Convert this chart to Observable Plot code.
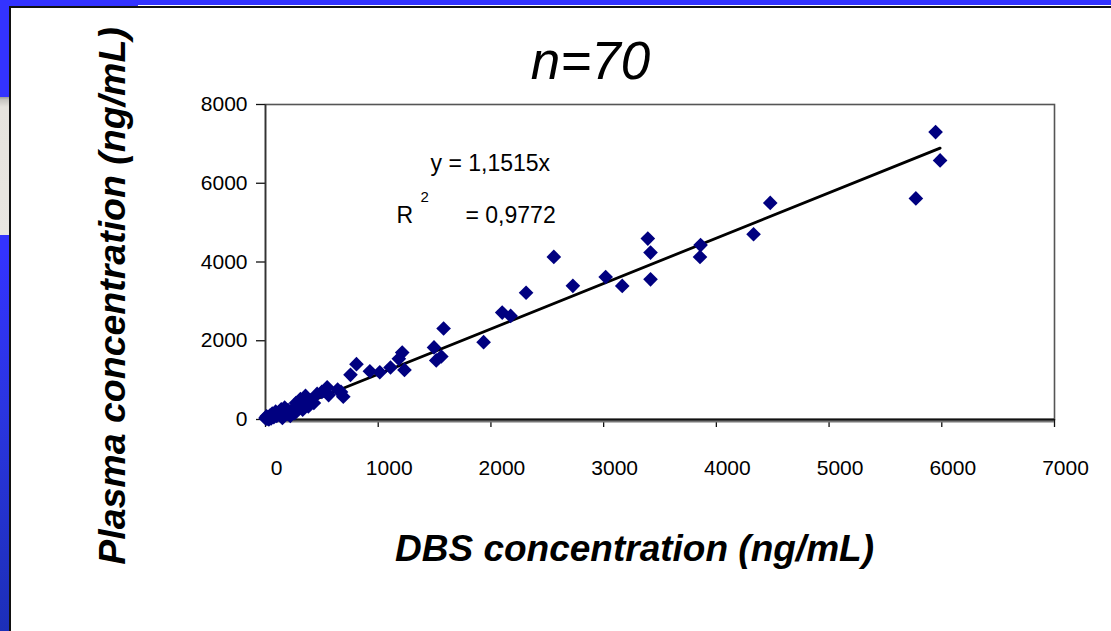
<!DOCTYPE html>
<html>
<head>
<meta charset="utf-8">
<script src="https://cdn.jsdelivr.net/npm/d3@7"></script>
<script src="https://cdn.jsdelivr.net/npm/@observablehq/plot@0.6"></script>
<style>
  html, body { margin: 0; padding: 0; background: #fff; }
  #wrap { position: relative; width: 1111px; height: 631px; overflow: hidden; background: #fff; }
  #chart { position: absolute; left: 0; top: 0; }
  .deco { position: absolute; z-index: 2; }
</style>
</head>
<body>
<div id="wrap">
  <div id="chart"></div>
  <div class="deco" style="left:0;top:0;width:1111px;height:5px;background:#3333ff"></div>
  <div class="deco" style="left:0;top:0;width:138px;height:7px;background:#3333ff"></div>
  <div class="deco" style="left:0;top:0;width:9px;height:631px;background:linear-gradient(to bottom,#3333ff 0%,#3333ff 40%,#2a35e0 65%,#1c2fb8 100%)"></div>
  <div class="deco" style="left:0;top:97px;width:9px;height:138px;background:linear-gradient(to bottom,#9a9a98 0px,#c8c6c2 3px,#e6e3de 10px,#e9e6e1 100%)"></div>
  <div class="deco" style="left:9px;top:7px;width:2px;height:624px;background:#111"></div>
  <div class="deco" style="left:9px;top:6px;width:1102px;height:2px;background:#111"></div>
</div>
<script>
// ---- data ----
const dbs = [5945, 5985, 5770, 4478, 4330, 3860, 3855, 3392, 3416, 3416, 3165, 3018, 2727, 2558, 2312, 2100, 2175, 1935, 1580, 1495, 1515, 1560,
             1213, 1183, 1233, 1109, 1014, 926, 807, 754,
             690, 670, 640, 560, 547, 500, 458, 429, 400, 355, 340, 310, 296, 270,
             251, 222, 200, 192, 170, 163, 140, 130, 118, 100, 90, 74, 60, 50, 40, 30, 20, 15, 10, 5, 0, 220, 260, 330, 380, 150];
const plasma = [7300, 6580, 5615, 5500, 4705, 4430, 4127, 4595, 4240, 3560, 3392, 3620, 3395, 4130, 3220, 2715, 2630, 1965, 2310, 1830, 1500, 1600,
                1700, 1540, 1260, 1320, 1200, 1225, 1405, 1135,
                580, 700, 760, 620, 820, 700, 650, 420, 480, 600, 450, 520, 360, 420,
                270, 200, 240, 150, 300, 140, 260, 120, 185, 90, 200, 60, 150, 30, 100, 0, 50, 18, 80, 20, 40, 90, 160, 250, 330, 40];
const slope = 1.1515;
const slopeLabel = "1,1515";
const r2Label = "0,9772";
const xTicks = [0, 1000, 2000, 3000, 4000, 5000, 6000, 7000];
const yTicks = [0, 2000, 4000, 6000, 8000];
const titleText = "n=70";
const xTitle = "DBS concentration (ng/mL)";
const yTitle = "Plasma concentration (ng/mL)";

// ---- derived tables ----
const points = dbs.map((d, i) => ({x: d, y: plasma[i]}));
const maxX = d3.max(dbs);
const fit = [{x: 0, y: 0}, {x: maxX, y: slope * maxX}];

const font = "'Liberation Sans', Arial, Helvetica, sans-serif";

const chart = Plot.plot({
  width: 1111,
  height: 631,
  marginLeft: 265,
  marginRight: 57,
  marginTop: 104,
  marginBottom: 212,
  style: {background: "transparent", fontFamily: font, fontSize: "21px", color: "#000", overflow: "visible"},
  x: {domain: [0, 7000]},
  y: {domain: [0, 8000]},
  marks: [
    Plot.frame({stroke: "#555", strokeWidth: 1.6}),
    Plot.axisX({ticks: xTicks, tickSize: 8, tickFormat: () => "", label: null, stroke: "#111", strokeWidth: 1.3}),
    Plot.text(xTicks, {x: d => d, text: d => String(d), frameAnchor: "bottom", lineAnchor: "top", dy: 41, dx: 11, fontSize: 21, fill: "#000"}),
    Plot.axisY({ticks: yTicks, tickSize: 9, tickPadding: 9, tickFormat: d => String(d), label: null, fontSize: 21, stroke: "#111", strokeWidth: 1.3}),
    Plot.ruleY([0], {stroke: "#777", strokeWidth: 3, dy: 1.5}),
    Plot.ruleY([0], {stroke: "#111", strokeWidth: 1.8}),
    Plot.ruleX([0], {stroke: "#333", strokeWidth: 1.6}),
    Plot.line(fit, {x: "x", y: "y", stroke: "#000", strokeWidth: 2.8}),
    Plot.dot(points, {x: "x", y: "y", symbol: "diamond2", r: 6.6, fill: "#000080", stroke: "none"}),
    Plot.text([`y = ${slopeLabel}x`], {text: d => d, frameAnchor: "top-left", textAnchor: "start", lineAnchor: "middle", dx: 165, dy: 59, fontSize: 23}),
    Plot.text(["R"], {text: d => d, frameAnchor: "top-left", textAnchor: "start", lineAnchor: "middle", dx: 131, dy: 111, fontSize: 23}),
    Plot.text(["2"], {text: d => d, frameAnchor: "top-left", textAnchor: "start", lineAnchor: "middle", dx: 155, dy: 93, fontSize: 15}),
    Plot.text([`= ${r2Label}`], {text: d => d, frameAnchor: "top-left", textAnchor: "start", lineAnchor: "middle", dx: 200, dy: 111, fontSize: 23}),
    Plot.text([titleText], {text: d => d, frameAnchor: "top-left", textAnchor: "middle", lineAnchor: "middle", dx: 325, dy: -42, fontSize: 53, fontStyle: "italic"}),
    Plot.text([xTitle], {text: d => d, frameAnchor: "bottom-left", textAnchor: "middle", lineAnchor: "middle", dx: 369, dy: 130, fontSize: 37, fontWeight: "bold", fontStyle: "italic"}),
    Plot.text([yTitle], {text: d => d, frameAnchor: "left", textAnchor: "middle", lineAnchor: "middle", rotate: -90, dx: -153, dy: 34, fontSize: 37.5, fontWeight: "bold", fontStyle: "italic"})
  ]
});
document.getElementById("chart").appendChild(chart);
</script>
</body>
</html>
